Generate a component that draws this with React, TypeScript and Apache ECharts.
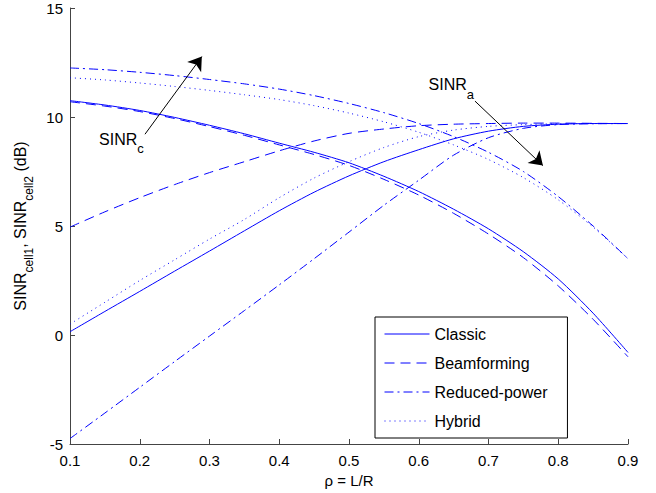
import React, { useEffect, useRef } from 'react';
import * as echarts from 'echarts';

const rho = [0.1, 0.15, 0.2, 0.25, 0.3, 0.35, 0.4, 0.45, 0.5, 0.55, 0.6, 0.65, 0.7, 0.75, 0.8, 0.85, 0.9];
const classicFall = [10.75, 10.55, 10.3, 9.98, 9.62, 9.23, 8.8, 8.38, 7.9, 7.28, 6.58, 5.77, 4.87, 3.82, 2.57, 1.0, -0.8];
const classicRise = [0.15, 1.08, 2.0, 2.93, 3.85, 4.78, 5.7, 6.55, 7.3, 7.95, 8.5, 9.0, 9.35, 9.57, 9.67, 9.7, 9.7];
const beamFall = [10.7, 10.5, 10.25, 9.93, 9.56, 9.16, 8.72, 8.28, 7.78, 7.14, 6.42, 5.58, 4.63, 3.55, 2.25, 0.72, -1.0];
const beamRise = [4.95, 5.65, 6.3, 6.9, 7.45, 7.95, 8.45, 8.9, 9.25, 9.45, 9.6, 9.67, 9.7, 9.72, 9.72, 9.71, 9.7];
const reducedFall = [12.25, 12.17, 12.05, 11.9, 11.72, 11.52, 11.28, 10.98, 10.62, 10.2, 9.7, 9.1, 8.38, 7.5, 6.35, 5.0, 3.5];
const reducedRise = [-4.75, -3.58, -2.4, -1.22, -0.05, 1.12, 2.3, 3.5, 4.72, 5.95, 7.1, 8.25, 9.05, 9.48, 9.65, 9.69, 9.7];
const hybridFall = [11.8, 11.7, 11.56, 11.4, 11.22, 11.02, 10.8, 10.52, 10.18, 9.78, 9.3, 8.72, 8.05, 7.22, 6.2, 4.95, 3.5];
const hybridRise = [0.5, 1.5, 2.5, 3.45, 4.4, 5.3, 6.3, 7.2, 7.95, 8.6, 9.1, 9.4, 9.57, 9.65, 9.69, 9.7, 9.7];

const schemeNames = ['Classic', 'Beamforming', 'Reduced-power', 'Hybrid'];
const xTicks = { min: 0.1, max: 0.9, interval: 0.1 };
const yTicks = { min: -5, max: 15, interval: 5 };

// annotations (data coordinates)
const arrowFrom = [[0.2075, 9.21], [0.6806, 10.73]];
const arrowTo = [[0.289, 12.77], [0.778, 7.77]];
const noteAt = [[0.1416, 8.99], [0.614, 11.49]];
const noteMain = ['SINR', 'SINR'];
const noteSub = ['c', 'a'];

const FONT = '"Liberation Sans", Arial, Helvetica, sans-serif';
const BLUE = '#0000ff';
const dashStyles: any[] = ['solid', [10, 6], [9, 4, 2, 4], [1, 4]];

function pairs(ys: number[]) {
  return rho.map((x, i) => [x, ys[i]]);
}

export default function App() {
  const ref = useRef<HTMLDivElement>(null);
  useEffect(() => {
    if (!ref.current) return;
    const chart = echarts.init(ref.current, undefined, { renderer: 'svg' });
    const curves = [
      [classicRise, classicFall],
      [beamRise, beamFall],
      [reducedRise, reducedFall],
      [hybridRise, hybridFall],
    ];
    const series: any[] = [];
    curves.forEach((pair, k) => {
      pair.forEach((ys) => {
        series.push({
          type: 'line',
          name: schemeNames[k],
          data: pairs(ys),
          symbol: 'none',
          showSymbol: false,
          smooth: 0.25,
          lineStyle: { color: BLUE, width: 1, type: dashStyles[k] },
          itemStyle: { color: BLUE },
          z: 3,
        });
      });
    });
    series.push({
      type: 'lines',
      coordinateSystem: 'cartesian2d',
      symbol: ['none', 'arrow'],
      symbolSize: 13,
      silent: true,
      z: 5,
      lineStyle: { color: '#000', width: 1, opacity: 1, curveness: 0 },
      data: arrowFrom.map((f, i) => ({ coords: [f, arrowTo[i]] })),
    });

    const axisCommon = {
      axisLine: { show: true, onZero: false, lineStyle: { color: '#444', width: 1 } },
      axisTick: { show: true, inside: true, length: 5, lineStyle: { color: '#444' } },
      splitLine: { show: false },
    };

    chart.setOption({
      animation: false,
      textStyle: { fontFamily: FONT },
      grid: { left: 70, right: 28, top: 8, bottom: 46, containLabel: false },
      legend: {
        data: schemeNames,
        orient: 'vertical',
        left: 375,
        top: 317,
        itemWidth: 45,
        itemHeight: 14,
        itemGap: 13,
        padding: [9, 20, 9, 9],
        borderColor: '#000',
        borderWidth: 1,
        borderRadius: 0,
        backgroundColor: '#fff',
        itemStyle: { opacity: 0, borderWidth: 0 },
        lineStyle: { width: 1 },
        textStyle: { fontSize: 16, color: '#000', fontFamily: FONT },
        selectedMode: false,
      },
      xAxis: {
        type: 'value',
        ...xTicks,
        ...axisCommon,
        name: 'ρ = L/R',
        nameLocation: 'middle',
        nameGap: 29,
        nameTextStyle: { fontSize: 15, color: '#000', fontFamily: FONT },
        axisLabel: {
          fontSize: 15,
          color: '#000',
          margin: 9,
          fontFamily: FONT,
          formatter: (v: number) => v.toFixed(1),
        },
      },
      yAxis: {
        type: 'value',
        ...yTicks,
        ...axisCommon,
        name: '{m|SINR}{s|cell1}{m|, SINR}{s|cell2}{m| (dB)}',
        nameLocation: 'middle',
        nameGap: 35,
        nameRotate: 90,
        nameTextStyle: {
          color: '#000',
          fontSize: 16,
          fontFamily: FONT,
          rich: {
            m: { fontSize: 16, lineHeight: 30, verticalAlign: 'middle', color: '#000', fontFamily: FONT },
            s: { fontSize: 12, verticalAlign: 'bottom', color: '#000', fontFamily: FONT },
          },
        },
        axisLabel: { fontSize: 15, color: '#000', margin: 7, fontFamily: FONT },
      },
      series,
    });

    const graphics = noteAt.map((pt, i) => {
      const p = chart.convertToPixel({ gridIndex: 0 }, pt) as number[];
      return {
        type: 'text',
        x: p[0],
        y: p[1],
        z: 10,
        style: {
          text: `{m|${noteMain[i]}}{s|${noteSub[i]}}`,
          align: 'left',
          verticalAlign: 'middle',
          fill: '#000',
          rich: {
            m: { fontSize: 16, lineHeight: 32, verticalAlign: 'middle', fill: '#000', fontFamily: FONT },
            s: { fontSize: 13, verticalAlign: 'bottom', fill: '#000', fontFamily: FONT },
          },
        },
      };
    });
    chart.setOption({ graphic: graphics });

    return () => chart.dispose();
  }, []);
  return (
    <div
      ref={ref}
      style={{ position: 'fixed', left: 0, top: 0, width: 656, height: 493, background: '#fff' }}
    />
  );
}
